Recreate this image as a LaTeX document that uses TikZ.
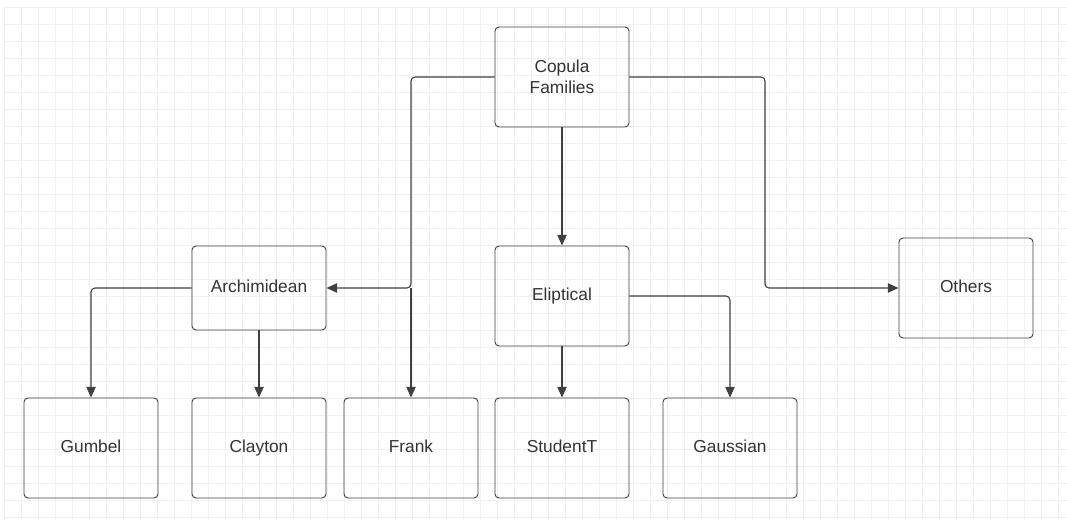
\documentclass[tikz,border=0pt]{standalone}
\usepackage{fontspec}
\setmainfont{Liberation Sans}
\usetikzlibrary{arrows.meta, positioning}

\tikzset{
  family/.style={draw=black!75, rounded corners=3pt, minimum width=100.5pt, minimum height=75pt, align=center, font=\fontsize{13}{16}\selectfont, text=black!80, line width=0.7pt},
  small/.style={family, minimum height=63pt},
  link/.style={draw=black!75, line width=0.8pt, -{Triangle[length=8pt,width=7pt]}}
}

\begin{document}
\begin{tikzpicture}[x=0.75pt,y=-0.75pt]
            % canvas and grid
            \useasboundingbox (0,0) rectangle (1067,520);
            \fill[white] (0,0) rectangle (1067,520);
            \draw[black!6, line width=0.4pt, xshift=3pt, yshift=-5.25pt] (0,0) grid[step=12.75pt] (1067,520);

            % boxes
            \node[family] (copula) at (562,77) {Copula\\Families};
            \node[small] (archi) at (259,288) {Archimidean\strut};
            \node[family] (elip) at (562,296) {Eliptical\strut};
            \node[family] (others) at (966,288) {Others\strut};
            \node[family] (gumbel) at (91,448) {Gumbel\strut};
            \node[family] (clayton) at (259,448) {Clayton\strut};
            \node[family] (frank) at (411,448) {Frank\strut};
            \node[family] (student) at (562,448) {StudentT\strut};
            \node[family] (gauss) at (730,448) {Gaussian\strut};

            % connectors
            \coordinate (split) at (411,288);
            \draw[link, rounded corners=3pt] (copula.west) -| (split) -- (archi.east);
            \draw[link] (split) -- (frank.north);
            \draw[link, rounded corners=3pt] (copula.east) -- (765,77) |- (others.west);
            \draw[link] (copula.south) -- (elip.north);
            \draw[link, rounded corners=3pt] (archi.west) -| (gumbel.north);
            \draw[link] (archi.south) -- (clayton.north);
            \draw[link] (elip.south) -- (student.north);
            \draw[link, rounded corners=3pt] (elip.east) -| (gauss.north);
\end{tikzpicture}
\end{document}
